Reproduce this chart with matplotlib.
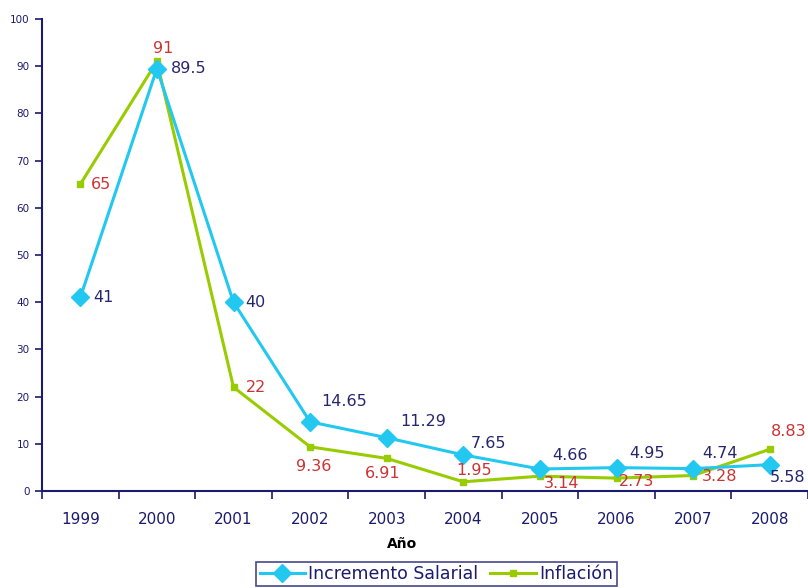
import matplotlib
matplotlib.use("Agg")
import matplotlib.pyplot as plt
from matplotlib.ticker import FixedLocator, NullFormatter

plt.rcParams['font.family'] = ['DejaVu Sans']

years = ["1999", "2000", "2001", "2002", "2003", "2004", "2005", "2006", "2007", "2008"]
salarial = [41, 89.5, 40, 14.65, 11.29, 7.65, 4.66, 4.95, 4.74, 5.58]
inflacion = [65, 91, 22, 9.36, 6.91, 1.95, 3.14, 2.73, 3.28, 8.83]

sal_color = "#22C8F0"
inf_color = "#99CC00"
sal_text = "#262670"
inf_text = "#CC3333"
axis_color = "#1A1A6E"

# label placement in pixels from each point: (dx, dy, horizontal alignment)
sal_offsets = [(13, 0, 'left'), (14, 0, 'left'), (12, 0, 'left'),
               (34, 20, 'center'), (36, 16, 'center'), (25, 11, 'center'),
               (30, 14, 'center'), (31, 14, 'center'), (27, 15, 'center'),
               (18, -13, 'center')]
inf_offsets = [(11, 0, 'left'), (6, 13, 'center'), (12, 0, 'left'),
               (4, -20, 'center'), (-4, -15, 'center'), (11, 11, 'center'),
               (22, -7, 'center'), (20, -3, 'center'), (26, -1, 'center'),
               (19, 18, 'center')]

fig = plt.figure(figsize=(8.08, 5.88), dpi=100)
ax = fig.add_axes([42 / 808, 1 - 491 / 588, 766 / 808, 472 / 588])

x = list(range(len(years)))
ax.plot(x, inflacion, color=inf_color, lw=2.2, marker='s', markersize=4,
        label="Inflación", zorder=2)
ax.plot(x, salarial, color=sal_color, lw=2.2, marker='D', markersize=9,
        label="Incremento Salarial", zorder=3)

for vals, offs, col in ((salarial, sal_offsets, sal_text), (inflacion, inf_offsets, inf_text)):
    for i, v in enumerate(vals):
        dx, dy, ha = offs[i]
        ax.annotate(f"{v:g}", (i, v), xytext=(dx, dy), textcoords='offset pixels',
                    ha=ha, va='center', fontsize=11.5, color=col, zorder=5,
                    annotation_clip=False)

ax.set_xlim(-0.5, 9.5)
ax.set_ylim(0, 100)
ax.set_yticks(range(0, 101, 10))
ax.tick_params(axis='y', labelsize=7.5, colors=axis_color, length=5, width=1.2, pad=4)

ax.xaxis.set_major_locator(FixedLocator([i - 0.5 for i in range(11)]))
ax.xaxis.set_major_formatter(NullFormatter())
ax.xaxis.set_minor_locator(FixedLocator(x))
ax.set_xticklabels(years, minor=True)
ax.tick_params(axis='x', which='major', length=6, width=1.2, color=axis_color)
ax.tick_params(axis='x', which='minor', length=0, labelsize=11, labelcolor=axis_color, pad=15)

for s in ['top', 'right']:
    ax.spines[s].set_visible(False)
for s in ['left', 'bottom']:
    ax.spines[s].set_color(axis_color)
    ax.spines[s].set_linewidth(1.5)

fig.text(402 / 808, 1 - 544 / 588, "Año", fontsize=10, fontweight='bold', color='black',
         ha='center', va='center')

handles, labels = ax.get_legend_handles_labels()
leg = fig.legend(handles[::-1], labels[::-1], loc='center', bbox_to_anchor=(0.540, 1 - 574 / 588),
                 ncol=2, fontsize=12.5, frameon=True, fancybox=False, handlelength=2.6,
                 handletextpad=0.2, columnspacing=0.7, borderpad=0.2, borderaxespad=0)
leg.get_frame().set_edgecolor(axis_color)
leg.get_frame().set_linewidth(1.2)
for t in leg.get_texts():
    t.set_color(axis_color)

fig.savefig("out.png", dpi=100, facecolor='white')
